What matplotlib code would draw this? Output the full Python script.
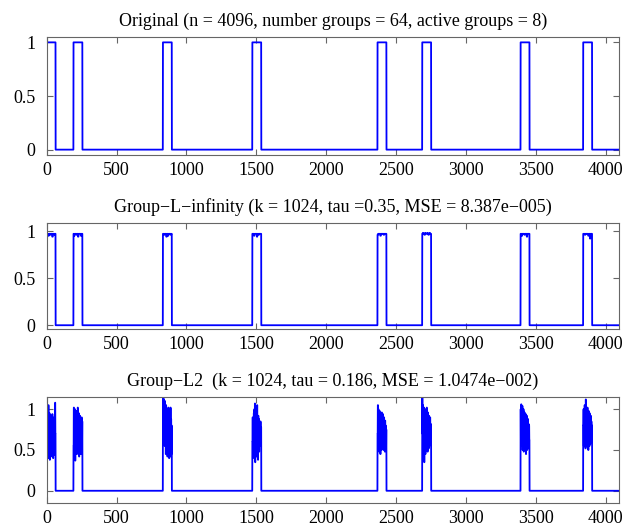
import matplotlib
matplotlib.use("Agg")
import matplotlib.pyplot as plt
import numpy as np

# signal setup
n = 4096
group_size = 64
active_groups = [0, 3, 13, 23, 37, 42, 53, 60]

titles = [
    "Original (n = 4096, number groups = 64, active groups = 8)",
    "Group\u2212L\u2212infinity (k = 1024, tau =0.35, MSE = 8.387e\u2212005)",
    "Group\u2212L2  (k = 1024, tau = 0.186, MSE = 1.0474e\u2212002)",
]

xticks = [0, 500, 1000, 1500, 2000, 2500, 3000, 3500, 4000]
yticks = [0, 0.5, 1]
ytick_labels = ["0", "0.5", "1"]

# L-infinity recovery, 16 values per active group
linf_vals = [
    [0.93, 0.97, 0.97, 0.95, 0.97, 0.97, 0.96, 0.97, 0.97, 0.97, 0.94, 0.97, 0.97, 0.97, 0.96, 0.97],
    [0.97, 0.95, 0.97, 0.97, 0.97, 0.96, 0.97, 0.97, 0.94, 0.97, 0.97, 0.97, 0.97, 0.95, 0.97, 0.97],
    [0.97, 0.97, 0.96, 0.97, 0.97, 0.97, 0.94, 0.97, 0.97, 0.95, 0.97, 0.97, 0.97, 0.97, 0.96, 0.97],
    [0.97, 0.97, 0.97, 0.95, 0.97, 0.97, 0.97, 0.97, 0.94, 0.97, 0.97, 0.96, 0.97, 0.97, 0.97, 0.97],
    [0.96, 0.97, 0.97, 0.97, 0.97, 0.95, 0.97, 0.97, 0.97, 0.97, 0.97, 0.96, 0.97, 0.97, 0.97, 0.97],
    [0.97, 0.98, 0.97, 0.97, 0.96, 0.98, 0.97, 0.97, 0.97, 0.98, 0.97, 0.96, 0.97, 0.98, 0.97, 0.97],
    [0.97, 0.97, 0.95, 0.97, 0.97, 0.97, 0.97, 0.96, 0.97, 0.97, 0.97, 0.94, 0.97, 0.97, 0.97, 0.97],
    [0.97, 0.97, 0.97, 0.96, 0.97, 0.97, 0.97, 0.97, 0.97, 0.95, 0.97, 0.97, 0.92, 0.97, 0.97, 0.97],
]

# L2 recovery, 32 values per active group
l2_vals = [
    [1.08, 0.62, 1.02, 0.45, 0.98, 0.70, 1.05, 0.40, 0.90, 0.55, 0.95, 0.38, 0.85, 0.62, 0.92, 0.42,
     0.88, 0.50, 0.80, 0.60, 0.94, 0.45, 0.86, 0.40, 0.78, 0.55, 0.90, 0.44, 0.84, 0.60, 1.08, 0.70],
    [0.55, 1.02, 0.40, 0.95, 0.60, 1.00, 0.37, 0.92, 0.50, 0.85, 0.65, 0.98, 0.45, 0.90, 0.55, 1.02,
     0.48, 0.88, 0.62, 0.95, 0.42, 0.85, 0.58, 0.92, 0.50, 0.88, 0.45, 0.80, 0.60, 0.90, 0.52, 0.85],
    [0.95, 1.15, 0.60, 1.12, 0.75, 1.08, 0.55, 1.10, 0.70, 1.02, 0.45, 1.05, 0.65, 0.98, 0.50, 1.00,
     0.42, 0.95, 0.60, 1.02, 0.48, 0.90, 0.40, 0.95, 0.55, 0.85, 0.42, 1.02, 0.50, 0.88, 0.45, 0.80],
    [0.60, 0.90, 0.45, 0.85, 0.55, 0.95, 0.40, 1.00, 0.60, 1.07, 0.35, 1.02, 0.55, 0.98, 0.42, 0.95,
     0.65, 1.05, 0.50, 0.90, 0.38, 0.92, 0.60, 0.88, 0.48, 0.85, 0.55, 0.80, 0.62, 0.85, 0.55, 0.78],
    [0.70, 1.05, 0.50, 1.00, 0.62, 0.95, 0.48, 0.98, 0.65, 0.90, 0.45, 0.95, 0.58, 0.92, 0.50, 0.96,
     0.62, 0.88, 0.52, 0.94, 0.60, 0.85, 0.50, 0.90, 0.55, 0.82, 0.48, 0.86, 0.60, 0.80, 0.52, 0.75],
    [1.15, 0.70, 1.05, 0.40, 0.98, 0.60, 1.02, 0.35, 0.92, 0.55, 0.96, 0.45, 1.00, 0.62, 0.94, 0.50,
     1.02, 0.58, 0.90, 0.48, 0.96, 0.60, 0.88, 0.52, 0.92, 0.55, 0.85, 0.60, 0.90, 0.65, 0.82, 0.70],
    [1.00, 0.60, 1.06, 0.55, 0.98, 0.65, 1.04, 0.50, 0.95, 0.62, 1.00, 0.48, 0.92, 0.60, 0.96, 0.50,
     0.90, 0.58, 0.94, 0.45, 0.88, 0.55, 0.92, 0.50, 0.85, 0.60, 0.88, 0.52, 0.82, 0.58, 0.80, 0.62],
    [0.80, 1.00, 0.55, 0.95, 0.70, 1.05, 0.60, 0.98, 0.52, 1.12, 0.65, 1.00, 0.55, 0.96, 0.62, 1.02,
     0.58, 0.92, 0.50, 0.98, 0.60, 0.90, 0.55, 0.95, 0.62, 0.88, 0.58, 0.92, 0.65, 0.85, 0.60, 0.80],
]

ylims = [(-0.05, 1.05), (-0.04, 1.085), (-0.15, 1.15)]


def build(vals_per_group):
    sig = np.zeros(n)
    for g, vals in zip(active_groups, vals_per_group):
        s = g * group_size
        sig[s:s + group_size] = np.repeat(vals, group_size // len(vals))
    return sig


original = build([[1.0] for _ in active_groups])
linf = build(linf_vals)
l2 = build(l2_vals)
signals = [original, linf, l2]

plt.rcParams['font.family'] = ['Liberation Serif', 'DejaVu Serif']
plt.rcParams['axes.unicode_minus'] = False

fig = plt.figure(figsize=(6.33, 5.27), dpi=100)
W, H = 633.0, 527.0
# axes boxes as (top, bottom) pixel rows
rows = [(37, 155), (223, 329), (397, 503)]
left, right = 46.7, 619.0

x = np.arange(n)
for (top, bot), sig, title, yl in zip(rows, signals, titles, ylims):
    ax = fig.add_axes([left / W, 1 - bot / H, (right - left) / W, (bot - top) / H])
    ax.plot(x, sig, color=(0, 0, 1), lw=1.3)
    ax.set_xlim(0, n)
    ax.set_ylim(*yl)
    ax.set_xticks(xticks)
    ax.set_yticks(yticks)
    ax.set_yticklabels(ytick_labels)
    ax.tick_params(direction='in', top=True, right=True, length=4,
                   color='#666666', labelsize=13)
    ax.tick_params(axis='x', pad=5)
    ax.tick_params(axis='y', pad=8)
    for sp in ax.spines.values():
        sp.set_color('#666666')
        sp.set_linewidth(0.8)
    ax.set_title(title, fontsize=13, pad=8)

fig.savefig("out.png", dpi=100)
